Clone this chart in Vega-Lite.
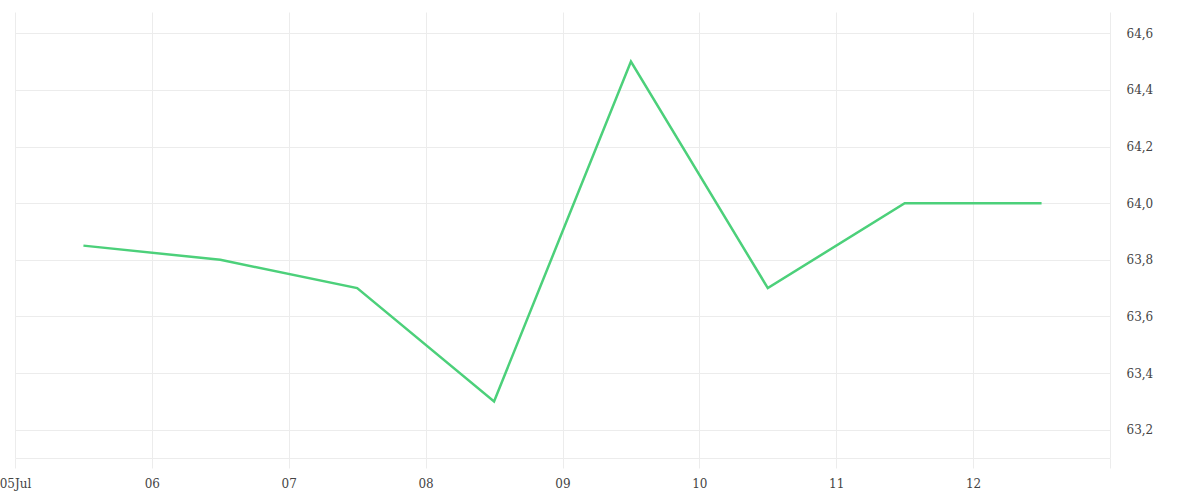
{
  "$schema": "https://vega.github.io/schema/vega-lite/v6.json",
  "width": 1095,
  "height": 446,
  "autosize": {"type": "none"},
  "padding": {"left": 15, "top": 12, "right": 90, "bottom": 42},
  "data": {
    "values": [
      {"time": "2023-07-05T12:00:00", "value": 63.85},
      {"time": "2023-07-06T12:00:00", "value": 63.8},
      {"time": "2023-07-07T12:00:00", "value": 63.7},
      {"time": "2023-07-08T12:00:00", "value": 63.3},
      {"time": "2023-07-09T12:00:00", "value": 64.5},
      {"time": "2023-07-10T12:00:00", "value": 63.7},
      {"time": "2023-07-11T12:00:00", "value": 64.0},
      {"time": "2023-07-12T12:00:00", "value": 64.0}
    ]
  },
  "mark": {"type": "line", "color": "#4cd07a", "strokeWidth": 2.5},
  "encoding": {
    "x": {
      "field": "time",
      "type": "temporal",
      "scale": {
        "domain": [
          {"year": 2023, "month": 7, "date": 5},
          {"year": 2023, "month": 7, "date": 13}
        ]
      },
      "axis": {
        "title": null,
        "tickCount": {"interval": "day", "step": 1},
        "domain": true,
        "domainColor": "#ececec",
        "tickColor": "#ececec",
        "tickSize": 10,
        "gridColor": "#ececec",
        "labelFont": "DejaVu Serif",
        "labelFontSize": 12,
        "labelColor": "#444",
        "labelPadding": 10,
        "labelFlush": false,
        "labelOverlap": false,
        "labelExpr": "date(datum.value) == 13 ? '' : (datum.index == 0 ? timeFormat(datum.value, '%d%b') : timeFormat(datum.value, '%d'))"
      }
    },
    "y": {
      "field": "value",
      "type": "quantitative",
      "scale": {"domain": [63.1, 64.675], "nice": false, "zero": false},
      "axis": {
        "title": null,
        "orient": "right",
        "values": [63.2, 63.4, 63.6, 63.8, 64.0, 64.2, 64.4, 64.6],
        "domain": false,
        "ticks": false,
        "gridColor": "#ececec",
        "labelFont": "DejaVu Serif",
        "labelFontSize": 12,
        "labelColor": "#444",
        "labelPadding": 16,
        "labelExpr": "replace(format(datum.value, '.1f'), '.', ',')"
      }
    }
  },
  "config": {
    "view": {"stroke": null}
  }
}
